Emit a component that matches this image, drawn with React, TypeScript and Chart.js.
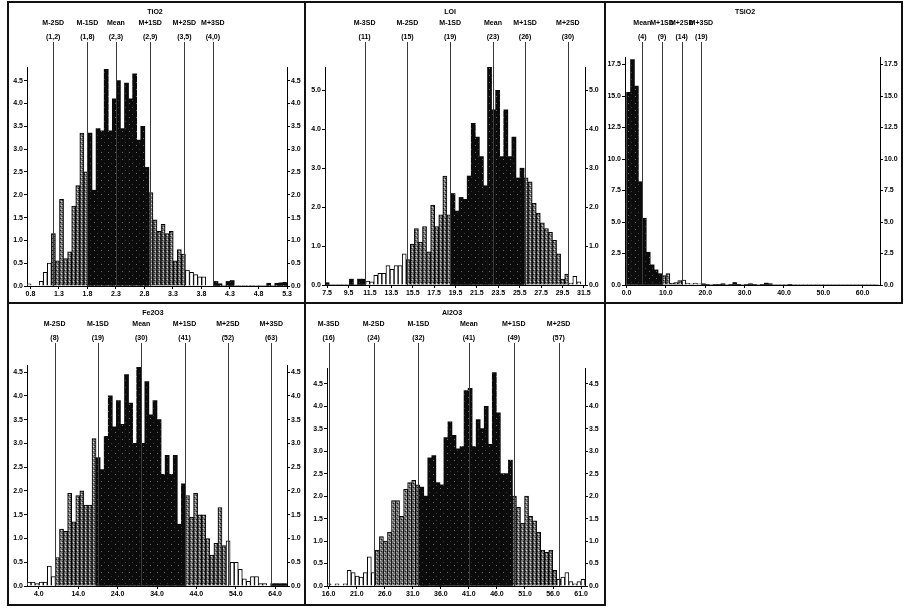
import React, { useEffect, useRef } from "react";
import { Chart, registerables } from "chart.js";

Chart.register(...registerables);

// ---------- TiO2 ----------
const tio2Counts = [
  0.05, 0, 0, 0.1, 0.3, 0.5, 1.15, 0.55, 1.9, 0.6,
  0.75, 1.75, 2.2, 3.35, 2.5, 3.35, 2.1, 3.45, 3.4, 4.75,
  3.4, 4.1, 4.5, 3.45, 4.45, 4.1, 4.65, 3.2, 3.5, 2.6,
  2.05, 1.45, 1.2, 1.35, 1.15, 1.2, 0.55, 0.8, 0.7, 0.35,
  0.3, 0.25, 0.2, 0.2, 0, 0, 0.1, 0.05, 0, 0.1,
  0.12, 0, 0, 0, 0, 0, 0, 0, 0, 0.06,
  0, 0.06, 0.07, 0.08,
];
const tio2Bins = [0.74, 5.3];
const tio2XTicks = [0.8, 1.3, 1.8, 2.3, 2.8, 3.3, 3.8, 4.3, 4.8, 5.3];
const tio2YTicks = [0, 0.5, 1, 1.5, 2, 2.5, 3, 3.5, 4, 4.5];
const tio2YMax = 4.8;
const tio2SdNames = ["M-2SD", "M-1SD", "Mean", "M+1SD", "M+2SD", "M+3SD"];
const tio2SdValues = [1.2, 1.8, 2.3, 2.9, 3.5, 4.0];
const tio2SdText = ["(1,2)", "(1,8)", "(2,3)", "(2,9)", "(3,5)", "(4,0)"];

// ---------- LOI ----------
const loiCounts = [
  0.06, 0, 0, 0, 0, 0, 0.15, 0, 0.15, 0.15,
  0.1, 0.08, 0.25, 0.3, 0.3, 0.5, 0.4, 0.5, 0.5, 0.8,
  0.65, 1.05, 1.45, 1.1, 1.5, 0.85, 2.05, 1.5, 1.8, 2.8,
  1.8, 2.35, 1.9, 2.25, 2.2, 2.8, 4.15, 3.8, 3.3, 2.55,
  5.6, 4.5, 5.0, 3.3, 4.5, 3.3, 3.8, 2.75, 3.0, 2.75,
  2.65, 2.1, 1.85, 1.6, 1.45, 1.35, 1.15, 0.8, 0.15, 0.28,
  0.05, 0.22, 0.08, 0,
];
const loiBins = [7.3, 31.6];
const loiXTicks = [7.5, 9.5, 11.5, 13.5, 15.5, 17.5, 19.5, 21.5, 23.5, 25.5, 27.5, 29.5, 31.5];
const loiYTicks = [0, 1, 2, 3, 4, 5];
const loiYMax = 5.6;
const loiSdNames = ["M-3SD", "M-2SD", "M-1SD", "Mean", "M+1SD", "M+2SD"];
const loiSdValues = [11, 15, 19, 23, 26, 30];
const loiSdText = ["(11)", "(15)", "(19)", "(23)", "(26)", "(30)"];

// ---------- TSiO2 ----------
const tsio2Counts = [
  15.3, 17.9, 15.8, 8.2, 5.3, 2.6, 1.6, 1.2, 0.9, 0.75,
  0.9, 0.15, 0.2, 0.35, 0.4, 0.15, 0.1, 0.15, 0.1, 0.1,
  0.05, 0, 0.05, 0.05, 0.1, 0, 0.05, 0.2, 0.05, 0,
  0.05, 0.1, 0.05, 0, 0.05, 0.15, 0.1, 0, 0, 0,
  0, 0.05, 0, 0, 0, 0, 0, 0, 0, 0,
  0, 0, 0, 0, 0, 0, 0, 0, 0, 0,
  0, 0, 0, 0,
];
const tsio2Bins = [0, 64];
const tsio2XTicks = [0, 10, 20, 30, 40, 50, 60];
const tsio2YTicks = [0, 2.5, 5, 7.5, 10, 12.5, 15, 17.5];
const tsio2YMax = 18.1;
const tsio2SdNames = ["Mean", "M+1SD", "M+2SD", "M+3SD"];
const tsio2SdValues = [4, 9, 14, 19];
const tsio2SdText = ["(4)", "(9)", "(14)", "(19)"];

// ---------- Fe2O3 ----------
const fe2o3Counts = [
  0.08, 0.08, 0.05, 0.08, 0.08, 0.42, 0.2, 0.6, 1.2, 1.15,
  1.95, 1.35, 1.9, 2.0, 1.7, 1.7, 3.1, 2.7, 2.45, 3.15,
  4.0, 3.35, 3.9, 3.4, 4.45, 3.85, 3.0, 4.6, 3.0, 4.3,
  3.6, 3.9, 3.5, 2.35, 2.75, 2.35, 2.75, 1.3, 2.15, 1.9,
  1.45, 1.95, 1.5, 1.5, 1.0, 0.65, 0.9, 1.65, 0.85, 0.95,
  0.5, 0.5, 0.35, 0.15, 0.1, 0.2, 0.2, 0.05, 0.05, 0,
  0.05, 0.05, 0.05, 0.05,
];
const fe2o3Bins = [1, 67];
const fe2o3XTicks = [4, 14, 24, 34, 44, 54, 64];
const fe2o3YTicks = [0, 0.5, 1, 1.5, 2, 2.5, 3, 3.5, 4, 4.5];
const fe2o3YMax = 4.65;
const fe2o3SdNames = ["M-2SD", "M-1SD", "Mean", "M+1SD", "M+2SD", "M+3SD"];
const fe2o3SdValues = [8, 19, 30, 41, 52, 63];
const fe2o3SdText = ["(8)", "(19)", "(30)", "(41)", "(52)", "(63)"];

// ---------- Al2O3 ----------
const al2o3Counts = [
  0.05, 0, 0.05, 0, 0.05, 0.35, 0.3, 0.22, 0.2, 0.3,
  0.65, 0.3, 0.8, 1.1, 1.0, 1.2, 1.9, 1.9, 1.55, 2.15,
  2.3, 2.35, 2.25, 2.2, 2.0, 2.85, 2.9, 2.3, 2.25, 3.3,
  3.65, 3.35, 3.05, 3.1, 4.35, 4.4, 3.1, 3.7, 3.5, 4.0,
  3.15, 4.75, 3.85, 2.5, 2.5, 2.8, 2.0, 1.75, 1.4, 2.0,
  1.55, 1.45, 1.2, 0.8, 0.75, 0.8, 0.35, 0.15, 0.2, 0.3,
  0.1, 0.05, 0.1, 0.15,
];
const al2o3Bins = [15.7, 61.7];
const al2o3XTicks = [16, 21, 26, 31, 36, 41, 46, 51, 56, 61];
const al2o3YTicks = [0, 0.5, 1, 1.5, 2, 2.5, 3, 3.5, 4, 4.5];
const al2o3YMax = 4.85;
const al2o3SdNames = ["M-3SD", "M-2SD", "M-1SD", "Mean", "M+1SD", "M+2SD"];
const al2o3SdValues = [16, 24, 32, 41, 49, 57];
const al2o3SdText = ["(16)", "(24)", "(32)", "(41)", "(49)", "(57)"];

// Panel layout: box = [left, top, right, bottom] of the framed cell,
// plot = [left, top, right, bottom] of the axes area (page pixels).
const panels = [
  {
    title: "TiO2", titleX: 147, box: [8, 2, 305, 303], plot: [27, 67, 287, 286],
    counts: tio2Counts, bins: tio2Bins, axis: tio2Bins, xTicks: tio2XTicks,
    yTicks: tio2YTicks, yMax: tio2YMax, sdNames: tio2SdNames, sdValues: tio2SdValues, sdText: tio2SdText,
  },
  {
    title: "LOI", titleX: 145, box: [305, 2, 605, 303], plot: [325, 67, 585, 285],
    counts: loiCounts, bins: loiBins, axis: loiBins, xTicks: loiXTicks,
    yTicks: loiYTicks, yMax: loiYMax, sdNames: loiSdNames, sdValues: loiSdValues, sdText: loiSdText,
  },
  {
    title: "TSiO2", titleX: 140, box: [605, 2, 902, 303], plot: [625, 57, 880, 285],
    counts: tsio2Counts, bins: tsio2Bins, axis: [-0.4, 64.4], xTicks: tsio2XTicks,
    yTicks: tsio2YTicks, yMax: tsio2YMax, sdNames: tsio2SdNames, sdValues: tsio2SdValues, sdText: tsio2SdText,
  },
  {
    title: "Fe2O3", titleX: 145, box: [8, 303, 305, 605], plot: [27, 365, 287, 586],
    counts: fe2o3Counts, bins: fe2o3Bins, axis: fe2o3Bins, xTicks: fe2o3XTicks,
    yTicks: fe2o3YTicks, yMax: fe2o3YMax, sdNames: fe2o3SdNames, sdValues: fe2o3SdValues, sdText: fe2o3SdText,
  },
  {
    title: "Al2O3", titleX: 147, box: [305, 303, 605, 605], plot: [327, 368, 585, 586],
    counts: al2o3Counts, bins: al2o3Bins, axis: al2o3Bins, xTicks: al2o3XTicks,
    yTicks: al2o3YTicks, yMax: al2o3YMax, sdNames: al2o3SdNames, sdValues: al2o3SdValues, sdText: al2o3SdText,
  },
];

// Frame rules around the cells: [x1, y1, x2, y2]
const frameRules = [
  [8, 2, 902, 2],
  [8, 303, 902, 303],
  [8, 605, 605, 605],
  [8, 2, 8, 605],
  [305, 2, 305, 605],
  [605, 2, 605, 605],
  [902, 2, 902, 303],
];

const FONT_FAMILY = 'Arial, "Liberation Sans", sans-serif';

function sdStep(name: string) {
  return name === "Mean" ? 0 : Number(name.slice(1, -2));
}

// Which band (by SD line) a bin centre falls in.
function bandOf(c: number, names: string[], values: number[]) {
  const at: Record<number, number> = {};
  names.forEach((n, i) => (at[sdStep(n)] = values[i]));
  const m = at[0];
  const up1 = at[1] ?? m + (m - at[-1]);
  const lo1 = at[-1] ?? m - (up1 - m);
  const up2 = at[2] ?? up1 + (up1 - m);
  const lo2 = at[-2] ?? lo1 - (m - lo1);
  const up3 = at[3] ?? up2 + (up2 - up1);
  const lo3 = at[-3] ?? lo2 - (lo1 - lo2);
  if (c >= lo1 && c < up1) return "core";
  if ((c >= lo2 && c < lo1) || (c >= up1 && c < up2)) return "mid";
  if ((c >= lo3 && c < lo2) || (c >= up2 && c < up3)) return "outer";
  return "far";
}

function makePattern(base: string, dots: [number, number, string][], size: number) {
  const c = document.createElement("canvas");
  c.width = size;
  c.height = size;
  const g = c.getContext("2d")!;
  g.fillStyle = base;
  g.fillRect(0, 0, size, size);
  dots.forEach(([x, y, col]) => {
    g.fillStyle = col;
    g.fillRect(x, y, 1, 1);
  });
  return g.createPattern(c, "repeat")!;
}

// Draws the title, the SD reference lines and their labels.
const sdMarkers = {
  id: "sdMarkers",
  afterDatasetsDraw(chart: any, _args: any, opts: any) {
    const { ctx, chartArea } = chart;
    const x = chart.scales.x;
    ctx.save();
    ctx.strokeStyle = "#3a3a3a";
    ctx.lineWidth = 1;
    opts.values.forEach((v: number) => {
      const px = Math.round(x.getPixelForValue(v)) + 0.5;
      ctx.beginPath();
      ctx.moveTo(px, opts.lineTop);
      ctx.lineTo(px, chartArea.bottom);
      ctx.stroke();
    });
    ctx.fillStyle = "#000";
    ctx.font = `bold 7px ${FONT_FAMILY}`;
    ctx.textAlign = "center";
    ctx.textBaseline = "middle";
    ctx.fillText(opts.title, opts.titleX, opts.titleY);
    opts.values.forEach((v: number, i: number) => {
      const px = x.getPixelForValue(v);
      ctx.fillText(opts.names[i], px, opts.nameY);
      ctx.fillText(opts.texts[i], px, opts.valueY);
    });
    ctx.restore();
  },
};

function buildConfig(p: any, grey: CanvasPattern, black: CanvasPattern) {
  const n = p.counts.length;
  const w = (p.bins[1] - p.bins[0]) / n;
  const centers = p.counts.map((_: number, i: number) => p.bins[0] + (i + 0.5) * w);
  const bands = centers.map((c: number) => bandOf(c, p.sdNames, p.sdValues));
  const [bl, bt, br, bb] = p.box;
  const [pl, pt, pr, pb] = p.plot;
  const font = { family: FONT_FAMILY, size: 7, weight: "bold" as const };
  const fmt = (v: any) => Number(v).toFixed(1);
  const yAxis = (position: string, width: number) => ({
    position,
    min: 0,
    max: p.yMax,
    afterBuildTicks: (s: any) => {
      s.ticks = p.yTicks.map((v: number) => ({ value: v }));
    },
    afterFit: (s: any) => {
      s.width = width;
    },
    ticks: { font, color: "#000", padding: 1, callback: fmt, autoSkip: false },
    grid: { drawOnChartArea: false, tickLength: 3, color: "#000" },
    border: { color: "#000", width: 1 },
  });

  return {
    type: "bar",
    data: {
      datasets: [
        {
          data: centers.map((c: number, i: number) => ({ x: c, y: p.counts[i] })),
          backgroundColor: bands.map((b: string) =>
            b === "mid" ? grey : b === "outer" ? "#ffffff" : black
          ),
          borderColor: "#000",
          borderWidth: bands.map((b: string, i: number) =>
            p.counts[i] > 0 && (b === "mid" || b === "outer") ? 1 : 0
          ),
          barPercentage: 1,
          categoryPercentage: 1,
          yAxisID: "y",
        },
      ],
    },
    options: {
      responsive: false,
      animation: false,
      events: [],
      layout: { padding: { top: pt - bt, left: 0, right: 0, bottom: 0 } },
      plugins: {
        legend: { display: false },
        tooltip: { enabled: false },
        sdMarkers: {
          title: p.title,
          titleX: p.titleX,
          titleY: 10,
          nameY: 21,
          valueY: 35,
          lineTop: 40,
          names: p.sdNames,
          values: p.sdValues,
          texts: p.sdText,
        },
      },
      scales: {
        x: {
          type: "linear",
          min: p.axis[0],
          max: p.axis[1],
          offset: false,
          afterBuildTicks: (s: any) => {
            s.ticks = p.xTicks.map((v: number) => ({ value: v }));
          },
          afterFit: (s: any) => {
            s.height = bb - pb;
          },
          ticks: { font, color: "#000", padding: 1, maxRotation: 0, autoSkip: false, callback: fmt },
          grid: { drawOnChartArea: false, tickLength: 3, color: "#000", offset: false },
          border: { color: "#000", width: 1 },
        },
        y: yAxis("left", pl - bl),
        y2: yAxis("right", br - pr),
      },
    },
    plugins: [sdMarkers],
  };
}

export default function App() {
  const canvases = useRef<(HTMLCanvasElement | null)[]>([]);

  useEffect(() => {
    // Stippled halftone for the 1–2 SD bands, speckled black for the core.
    const grey = makePattern(
      "#7c7c7c",
      [
        [0, 0, "#1e1e1e"],
        [2, 2, "#262626"],
        [1, 3, "#d6d6d6"],
        [3, 1, "#cfcfcf"],
        [2, 0, "#4a4a4a"],
      ],
      4
    );
    const black = makePattern("#0b0b0b", [[2, 3, "#6a6a6a"], [5, 0, "#3c3c3c"]], 7);
    const charts = panels.map(
      (p, i) => new Chart(canvases.current[i] as HTMLCanvasElement, buildConfig(p, grey, black) as any)
    );
    return () => charts.forEach((c) => c.destroy());
  }, []);

  return (
    <div
      style={{
        position: "absolute",
        left: 0,
        top: 0,
        width: 904,
        height: 609,
        background: "#fff",
        overflow: "hidden",
      }}
    >
      {panels.map((p, i) => (
        <canvas
          key={p.title}
          ref={(el) => {
            canvases.current[i] = el;
          }}
          width={p.box[2] - p.box[0]}
          height={p.box[3] - p.box[1]}
          style={{
            position: "absolute",
            left: p.box[0],
            top: p.box[1],
            width: p.box[2] - p.box[0],
            height: p.box[3] - p.box[1],
          }}
        />
      ))}
      {frameRules.map(([x1, y1, x2, y2], i) => (
        <div
          key={i}
          style={{
            position: "absolute",
            left: x1 - 1,
            top: y1 - 1,
            width: x2 - x1 + 2,
            height: y2 - y1 + 2,
            background: "#111",
          }}
        />
      ))}
    </div>
  );
}
